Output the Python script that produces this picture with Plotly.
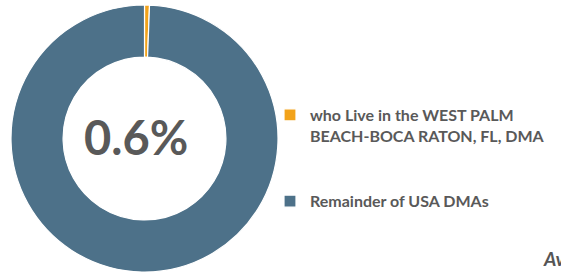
import plotly.graph_objects as go

labels = ["who Live in the WEST PALM<br>BEACH-BOCA RATON, FL, DMA<br> <br> ", "Remainder of USA DMAs"]
values = [0.6, 99.4]
colors = ["#F2A31B", "#4D7189"]
center_text = "0.6%"

W, H = 561, 275

fig = go.Figure(go.Pie(
    labels=labels,
    values=values,
    hole=0.61,
    sort=False,
    direction="clockwise",
    rotation=0,
    marker=dict(colors=colors, line=dict(color="white", width=1.2)),
    textinfo="none",
    hoverinfo="label+percent",
    domain=dict(x=[11 / W, 278 / W], y=[3 / H, 270 / H]),
))

fig.add_annotation(
    text=center_text, x=136 / W, y=1 - 137 / H, xref="paper", yref="paper",
    xanchor="center", yanchor="middle",
    showarrow=False, font=dict(family="Lato", size=47, color="#595959", weight="bold"),
)
fig.add_annotation(
    text="<i>Av</i>", x=541 / W, y=1 - 258 / H, xref="paper", yref="paper",
    xanchor="left", yanchor="middle", showarrow=False,
    font=dict(family="Lato", size=19, color="#555555", weight="bold"),
)

fig.update_layout(
    width=W, height=H,
    margin=dict(l=0, r=0, t=0, b=0, autoexpand=False),
    paper_bgcolor="white", plot_bgcolor="white",
    showlegend=True,
    legend=dict(
        x=270 / W, y=1 - 98 / H, xanchor="left", yanchor="top",
        font=dict(family="Lato", size=16, color="#595959", weight="bold"),
        valign="top", itemwidth=30,
        bgcolor="rgba(0,0,0,0)",
    ),
)

fig.write_html(
    "out.html",
    config={"displayModeBar": False},
    post_script="document.body.style.margin='0';document.body.style.overflow='hidden';",
)
